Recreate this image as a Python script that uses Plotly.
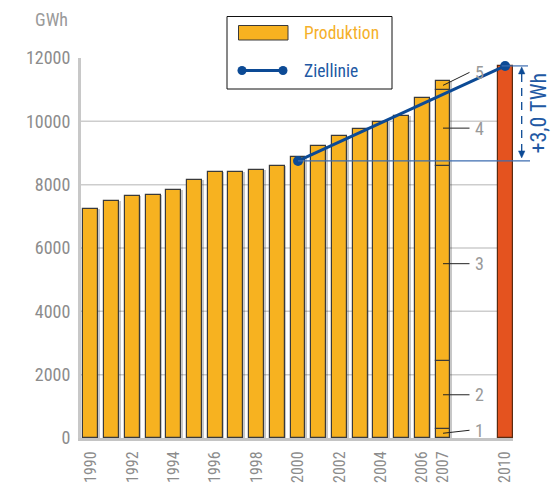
import plotly.graph_objects as go

# --- data -------------------------------------------------------------------
years = list(range(1990, 2008))
production = [7230, 7480, 7640, 7670, 7830, 8150, 8390, 8410, 8460, 8600,
              8880, 9210, 9550, 9760, 9990, 10170, 10750, 11280]
# 2007 production split into its five components (labelled 1..5)
parts_2007 = [300, 2130, 6150, 2410, 290]
part_labels = ["1", "2", "3", "4", "5"]

target_years = [2000, 2010]
target_values = [8750, 11750]

xtick_years = [1990, 1992, 1994, 1996, 1998, 2000, 2002, 2004, 2006, 2007, 2010]
ytick_values = [0, 2000, 4000, 6000, 8000, 10000, 12000]
grid_values = [2000, 4000, 6000, 8000, 10000]

# --- style ------------------------------------------------------------------
FONT = "Roboto Condensed, DejaVu Sans Condensed, Open Sans, sans-serif"
ORANGE = "#F7B220"
RED = "#E4531F"
BLUE = "#0C4A95"
TEXT_BLUE = "#2158A3"
GREY_TXT = "#8C8C8C"
GRID = "#CDCDCD"
OUTLINE = "#3A3A3A"

W, H = 557, 484
ML, MR, MT, MB = 81, 44, 58, 46
PW, PH = W - ML - MR, H - MT - MB
XR = [1989.52, 2010.38]
YR = [0, 12000]
BAR_W = 0.72
PX_PER_YEAR = PW / (XR[1] - XR[0])


def xp(year):
    """year -> paper x"""
    return (year - XR[0]) / (XR[1] - XR[0])


def yp(v):
    """value -> paper y"""
    return (v - YR[0]) / (YR[1] - YR[0])


def px_x(px):
    """pixel x -> paper x"""
    return (px - ML) / PW


def px_y(py):
    """pixel y -> paper y"""
    return (H - MB - py) / PH


fig = go.Figure()

# soft drop shadow behind the production bars
shadow_dx = 1.6 / PX_PER_YEAR
fig.add_trace(go.Bar(
    x=[y + shadow_dx for y in years], y=production, width=BAR_W,
    marker=dict(color="rgba(0,0,0,0.22)", line=dict(width=0)),
    showlegend=False, hoverinfo="skip"))

# production 1990-2006
fig.add_trace(go.Bar(
    x=years[:-1], y=production[:-1], width=BAR_W, name="Produktion",
    marker=dict(color=ORANGE, line=dict(color=OUTLINE, width=1.2)),
    showlegend=False))

# 2007 as stacked components
bases = []
acc = 0
for p in parts_2007:
    bases.append(acc)
    acc += p
fig.add_trace(go.Bar(
    x=[2007] * len(parts_2007), y=parts_2007, base=bases, width=BAR_W,
    marker=dict(color=ORANGE, line=dict(color=OUTLINE, width=1.2)),
    showlegend=False))

# 2010 target bar
fig.add_trace(go.Bar(
    x=[target_years[1]], y=[target_values[1]], width=BAR_W,
    marker=dict(color=RED, line=dict(color="#5a2a10", width=1.2)),
    showlegend=False))

# target line
fig.add_trace(go.Scatter(
    x=target_years, y=target_values, mode="lines+markers", name="Ziellinie",
    line=dict(color=BLUE, width=3), marker=dict(color=BLUE, size=10),
    cliponaxis=False, showlegend=False))

shapes = []
annotations = []

# horizontal grid lines
for g in grid_values:
    shapes.append(dict(type="line", xref="x", yref="y", x0=XR[0], x1=2010,
                       y0=g, y1=g, line=dict(color=GRID, width=1.5), layer="below"))

# thin reference lines at start and end of the target line
shapes.append(dict(type="line", xref="paper", yref="paper",
                   x0=xp(target_years[0]), x1=px_x(530),
                   y0=yp(target_values[0]), y1=yp(target_values[0]),
                   line=dict(color="#3C6CB0", width=1.2)))
shapes.append(dict(type="line", xref="paper", yref="paper",
                   x0=xp(target_years[1]) - 0.008, x1=px_x(528),
                   y0=yp(target_values[1]), y1=yp(target_values[1]),
                   line=dict(color="#3C6CB0", width=1.2)))

# double arrow showing the increase
ax_px = 521.7
top_px = H - MB - yp(target_values[1]) * PH + 1
bot_px = H - MB - yp(target_values[0]) * PH - 3
head = 7
half = 3.2
shapes.append(dict(type="line", xref="paper", yref="paper",
                   x0=px_x(ax_px), x1=px_x(ax_px),
                   y0=px_y(top_px + head), y1=px_y(bot_px - head),
                   line=dict(color=BLUE, width=1.3, dash="8px,6px")))
for tip, d in ((top_px, 1), (bot_px, -1)):
    path = "M {} {} L {} {} L {} {} Z".format(
        px_x(ax_px), px_y(tip),
        px_x(ax_px - half), px_y(tip + d * head),
        px_x(ax_px + half), px_y(tip + d * head))
    shapes.append(dict(type="path", xref="paper", yref="paper", path=path,
                       fillcolor=BLUE, line=dict(color=BLUE, width=0.5)))

delta = (target_values[1] - target_values[0]) / 1000
annotations.append(dict(
    xref="paper", yref="paper", x=px_x(537.5), y=px_y(113),
    text="+{:.1f} TWh".format(delta).replace(".", ","), textangle=-90,
    showarrow=False, xanchor="center", yanchor="middle",
    font=dict(family=FONT, size=22, color=TEXT_BLUE)))

# leader lines and numbers for the 2007 components
px_per_val = PH / (YR[1] - YR[0])
lead_dy = [-3, 0, 0, 0, -13]
for lab, b, p, dy in zip(part_labels, bases, parts_2007, lead_dy):
    mid = b + p / 2
    end_v = mid - dy / px_per_val
    shapes.append(dict(type="line", xref="x", yref="y",
                       x0=2007, x1=2007 + 26.5 / PX_PER_YEAR,
                       y0=mid, y1=end_v, line=dict(color="#222222", width=1)))
    annotations.append(dict(
        xref="x", yref="y", x=2007 + 29.5 / PX_PER_YEAR, y=end_v,
        text=lab, showarrow=False, xanchor="left", yanchor="middle",
        font=dict(family=FONT, size=18, color="#999999")))

# unit label
annotations.append(dict(xref="paper", yref="paper", x=px_x(51.5), y=px_y(20),
                        text="GWh", showarrow=False, xanchor="center",
                        yanchor="middle",
                        font=dict(family=FONT, size=18, color="#9A9A9A")))

# legend box
shapes.append(dict(type="rect", xref="paper", yref="paper",
                   x0=px_x(227), x1=px_x(392), y0=px_y(89), y1=px_y(16.5),
                   line=dict(color="#111111", width=1), fillcolor="white"))
shapes.append(dict(type="rect", xref="paper", yref="paper",
                   x0=px_x(238.5), x1=px_x(288), y0=px_y(40), y1=px_y(25.5),
                   line=dict(color=OUTLINE, width=1), fillcolor=ORANGE))
shapes.append(dict(type="line", xref="paper", yref="paper",
                   x0=px_x(242), x1=px_x(283), y0=px_y(70.5), y1=px_y(70.5),
                   line=dict(color=BLUE, width=3)))
for cx in (242, 283):
    shapes.append(dict(type="circle", xref="paper", yref="paper",
                       x0=px_x(cx - 4.5), x1=px_x(cx + 4.5),
                       y0=px_y(70.5 + 4.5), y1=px_y(70.5 - 4.5),
                       line=dict(color=BLUE, width=0), fillcolor=BLUE))
annotations.append(dict(xref="paper", yref="paper", x=px_x(302), y=px_y(33),
                        text="Produktion", showarrow=False, xanchor="left",
                        yanchor="middle",
                        font=dict(family=FONT, size=17.5, color="#F5B02A")))
annotations.append(dict(xref="paper", yref="paper", x=px_x(302), y=px_y(71),
                        text="Ziellinie", showarrow=False, xanchor="left",
                        yanchor="middle",
                        font=dict(family=FONT, size=17.5, color=TEXT_BLUE)))

fig.update_layout(
    width=W, height=H, margin=dict(l=ML, r=MR, t=MT, b=MB, pad=0),
    paper_bgcolor="white", plot_bgcolor="white",
    barmode="overlay", bargap=0, showlegend=False,
    shapes=shapes, annotations=annotations,
    font=dict(family=FONT, color=GREY_TXT),
    xaxis=dict(range=XR, tickvals=xtick_years,
               ticktext=[str(y) for y in xtick_years], tickangle=-90,
               showgrid=False, zeroline=False, showline=True,
               linecolor="#C4C4C4", linewidth=3, ticks="",
               ticklabelstandoff=4, automargin=False,
               tickfont=dict(family=FONT, size=16, color=GREY_TXT)),
    yaxis=dict(range=YR, tickvals=ytick_values,
               ticktext=[str(v) for v in ytick_values], showgrid=False,
               zeroline=False, showline=True, linecolor="#C8C8C8",
               linewidth=3, ticks="", ticklabelstandoff=4, automargin=False,
               tickfont=dict(family=FONT, size=18, color=GREY_TXT)),
)

fig.write_html("out.html")
